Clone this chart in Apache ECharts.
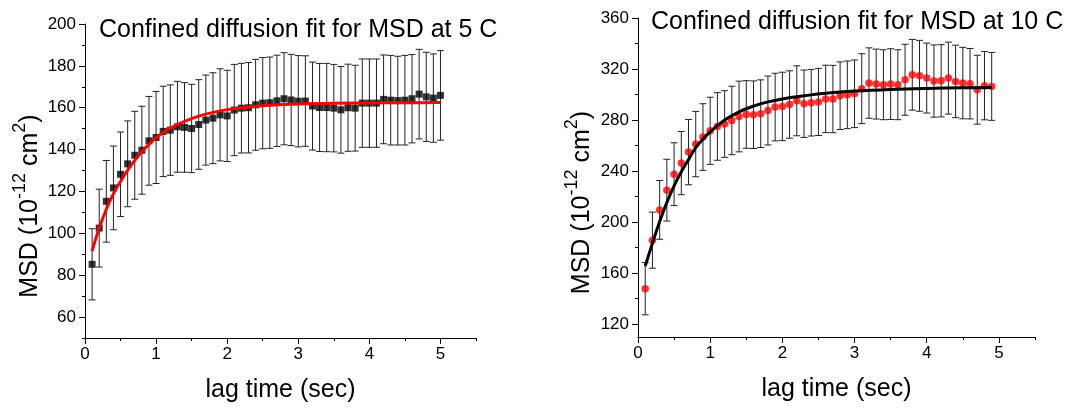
<!DOCTYPE html>
<html>
<head>
<meta charset="utf-8">
<script src="https://cdn.jsdelivr.net/npm/echarts@6/dist/echarts.min.js"></script>
<style>html,body{margin:0;padding:0;background:#fff;}#c{width:1075px;height:408px;}</style>
</head>
<body>
<div id="c"></div>
<script>
// ---- Left panel (5 C) ----
const tLeft = [0.1,0.2,0.3,0.4,0.5,0.6,0.7,0.8,0.9,1.0,1.1,1.2,1.3,1.4,1.5,1.6,1.7,1.8,1.9,2.0,2.1,2.2,2.3,2.4,2.5,2.6,2.7,2.8,2.9,3.0,3.1,3.2,3.3,3.4,3.5,3.6,3.7,3.8,3.9,4.0,4.1,4.2,4.3,4.4,4.5,4.6,4.7,4.8,4.9,5.0];
const msdLeft = [85.2,102.5,115.3,121.7,128.2,133.2,137.3,139.7,144.2,145.8,148.7,149.3,150.9,150.6,150.1,152.0,154.1,155.0,156.6,156.1,158.9,159.8,160.0,161.4,162.2,162.4,163.3,164.3,163.7,163.1,163.2,160.8,160.1,160.1,159.8,159.0,160.0,159.8,162.2,162.2,162.2,164.0,163.6,163.4,163.6,164.3,166.5,165.2,164.6,165.9];
const errLeft = [17.0,18.6,19.5,20.0,20.2,20.5,21.0,21.0,21.2,22.0,21.6,21.6,21.7,21.4,21.1,21.4,21.5,21.7,22.0,21.8,21.8,21.4,21.6,21.7,21.8,21.8,21.8,22.0,21.8,21.8,21.6,21.0,21.0,21.1,20.9,20.7,20.8,20.5,21.1,21.1,21.1,21.2,21.4,21.2,21.4,21.1,21.4,21.3,21.1,21.4];
const fitTLeft = [0.1,0.2,0.3,0.4,0.5,0.6,0.7,0.8,0.9,1.0,1.1,1.2,1.4,1.6,1.8,2.0,2.3,2.6,3.0,3.5,4.0,4.5,5.0];
const fitLeft = [91.5,102.5,111.5,119.0,124.8,130.2,134.8,139.0,142.5,145.6,148.2,150.3,153.5,156.0,157.8,159.1,160.4,161.2,161.8,162.1,162.3,162.4,162.5];

// ---- Right panel (10 C) ----
const tRight = [0.1,0.2,0.3,0.4,0.5,0.6,0.7,0.8,0.9,1.0,1.1,1.2,1.3,1.4,1.5,1.6,1.7,1.8,1.9,2.0,2.1,2.2,2.3,2.4,2.5,2.6,2.7,2.8,2.9,3.0,3.1,3.2,3.3,3.4,3.5,3.6,3.7,3.8,3.9,4.0,4.1,4.2,4.3,4.4,4.5,4.6,4.7,4.8,4.9];
const msdRight = [147.9,185.9,209.6,225.1,237.6,246.3,254.9,261.2,266.7,271.6,275.0,276.9,279.7,282.8,284.4,284.2,285.0,287.5,290.2,290.7,292.2,295.1,292.8,293.6,294.2,296.6,296.5,299.1,299.8,300.6,304.6,309.0,308.2,307.7,308.2,307.7,311.6,315.5,314.7,312.9,310.6,310.8,312.9,310.3,309.0,308.5,303.8,307.0,306.4];
const errRight = [20.5,22.0,23.0,24.2,24.6,24.8,25.6,25.6,26.1,26.3,26.5,26.1,26.8,27.7,26.5,26.5,26.5,27.0,26.5,26.8,26.4,27.4,26.4,26.1,26.3,26.4,26.4,26.5,26.5,26.5,27.4,27.6,27.4,27.4,27.7,27.4,27.8,27.7,27.8,27.4,28.3,28.3,28.2,28.4,28.0,27.6,27.0,26.8,26.6];
const fitTRight = [0.1,0.2,0.3,0.4,0.5,0.6,0.7,0.8,0.9,1.0,1.2,1.4,1.6,1.8,2.0,2.3,2.6,3.0,3.5,4.0,4.5,4.9];
const fitRight = [165.7,183.5,200.5,215.5,228.5,239.5,249.0,258.5,265.0,270.8,280.0,286.5,291.0,294.3,296.6,299.0,301.0,302.7,304.0,304.8,305.3,305.6];

// ---- Axis ticks ----
const xMajor = [0,1,2,3,4,5];
const xMinor = [0.5,1.5,2.5,3.5,4.5,5.5];
const yMajorLeft = [60,80,100,120,140,160,180,200];
const yMinorLeft = [50,70,90,110,130,150,170,190];
const yMajorRight = [120,160,200,240,280,320,360];
const yMinorRight = [140,180,220,260,300,340];

const titleLeft = 'Confined diffusion fit for MSD at 5 C';
const titleRight = 'Confined diffusion fit for MSD at 10 C';
const xName = 'lag time (sec)';
const yName = '{a|MSD (10}{s|-12}{a| cm}{s|2}{a|)}';

const FONT = '"Liberation Sans", Arial, sans-serif';

function errBar(color) {
  return function (params, api) {
    const x = api.value(0), y = api.value(1), e = api.value(2);
    const top = api.coord([x, y + e]);
    const bot = api.coord([x, y - e]);
    const w = 3.5;
    const st = { stroke: color, lineWidth: 1 };
    return {
      type: 'group',
      children: [
        { type: 'line', shape: { x1: top[0], y1: top[1], x2: bot[0], y2: bot[1] }, style: st },
        { type: 'line', shape: { x1: top[0] - w, y1: top[1], x2: top[0] + w, y2: top[1] }, style: st },
        { type: 'line', shape: { x1: bot[0] - w, y1: bot[1], x2: bot[0] + w, y2: bot[1] }, style: st }
      ]
    };
  };
}

function xAxes(gridIndex) {
  const base = {
    type: 'value', gridIndex: gridIndex, min: 0, max: 5.5, position: 'bottom',
    splitLine: { show: false }
  };
  return [
    Object.assign({}, base, {
      name: xName, nameLocation: 'middle', nameGap: 40,
      nameTextStyle: { fontFamily: FONT, fontSize: 25, color: '#000' },
      axisLine: { show: true, lineStyle: { color: '#000', width: 1 } },
      axisTick: { show: true, inside: false, length: 6, customValues: xMajor, lineStyle: { color: '#000' } },
      axisLabel: { show: true, customValues: xMajor, fontFamily: FONT, fontSize: 17, color: '#000', margin: 8 }
    }),
    Object.assign({}, base, {
      axisLine: { show: false },
      axisTick: { show: true, length: 3, customValues: xMinor, lineStyle: { color: '#000' } },
      axisLabel: { show: false }
    })
  ];
}

function yAxes(gridIndex, min, max, major, minor, gap) {
  const base = {
    type: 'value', gridIndex: gridIndex, min: min, max: max, position: 'left',
    splitLine: { show: false }
  };
  return [
    Object.assign({}, base, {
      name: yName, nameLocation: 'middle', nameGap: gap, nameRotate: 90,
      nameTextStyle: {
        fontFamily: FONT, color: '#000', padding: [0, 50, 0, 0],
        rich: {
          a: { fontFamily: FONT, fontSize: 25, color: '#000', lineHeight: 32, verticalAlign: 'bottom' },
          s: { fontFamily: FONT, fontSize: 18, color: '#000', lineHeight: 32, verticalAlign: 'top' }
        }
      },
      axisLine: { show: true, lineStyle: { color: '#000', width: 1 } },
      axisTick: { show: true, length: 6, customValues: major, lineStyle: { color: '#000' } },
      axisLabel: { show: true, customValues: major, fontFamily: FONT, fontSize: 17, color: '#000', margin: 9 }
    }),
    Object.assign({}, base, {
      axisLine: { show: false },
      axisTick: { show: true, length: 3, customValues: minor, lineStyle: { color: '#000' } },
      axisLabel: { show: false }
    })
  ];
}

const chart = echarts.init(document.getElementById('c'), null, { renderer: 'canvas' });

const option = {
  animation: false,
  backgroundColor: '#fff',
  title: [
    { text: titleLeft, left: 99, top: 18, padding: 0, textStyle: { fontFamily: FONT, fontSize: 25, fontWeight: 'normal', color: '#000' } },
    { text: titleRight, left: 651, top: 10, padding: 0, textStyle: { fontFamily: FONT, fontSize: 25, fontWeight: 'normal', color: '#000' } }
  ],
  grid: [
    { left: 85, top: 24, width: 391, height: 314, containLabel: false },
    { left: 638, top: 18, width: 397, height: 319, containLabel: false }
  ],
  xAxis: xAxes(0).concat(xAxes(1)),
  yAxis: yAxes(0, 50, 200, yMajorLeft, yMinorLeft, 42).concat(yAxes(1, 110, 360, yMajorRight, yMinorRight, 43)),
  series: [
    {
      type: 'custom', xAxisIndex: 0, yAxisIndex: 0, z: 1,
      renderItem: errBar('#222'),
      data: tLeft.map((t, i) => [t, msdLeft[i], errLeft[i]])
    },
    {
      type: 'scatter', xAxisIndex: 0, yAxisIndex: 0, z: 2,
      symbol: 'rect', symbolSize: 7,
      itemStyle: { color: '#000' },
      data: tLeft.map((t, i) => [t, msdLeft[i]])
    },
    {
      type: 'line', xAxisIndex: 0, yAxisIndex: 0, z: 3,
      smooth: 0.4, showSymbol: false, symbol: 'none',
      lineStyle: { color: '#ff0000', width: 3 },
      data: fitTLeft.map((t, i) => [t, fitLeft[i]])
    },
    {
      type: 'custom', xAxisIndex: 2, yAxisIndex: 2, z: 1,
      renderItem: errBar('#222'),
      data: tRight.map((t, i) => [t, msdRight[i], errRight[i]])
    },
    {
      type: 'scatter', xAxisIndex: 2, yAxisIndex: 2, z: 2,
      symbol: 'circle', symbolSize: 7.5,
      itemStyle: { color: '#ff0000' },
      data: tRight.map((t, i) => [t, msdRight[i]])
    },
    {
      type: 'line', xAxisIndex: 2, yAxisIndex: 2, z: 3,
      smooth: 0.4, showSymbol: false, symbol: 'none',
      lineStyle: { color: '#000', width: 3 },
      data: fitTRight.map((t, i) => [t, fitRight[i]])
    }
  ]
};
chart.setOption(option);
</script>
</body>
</html>
